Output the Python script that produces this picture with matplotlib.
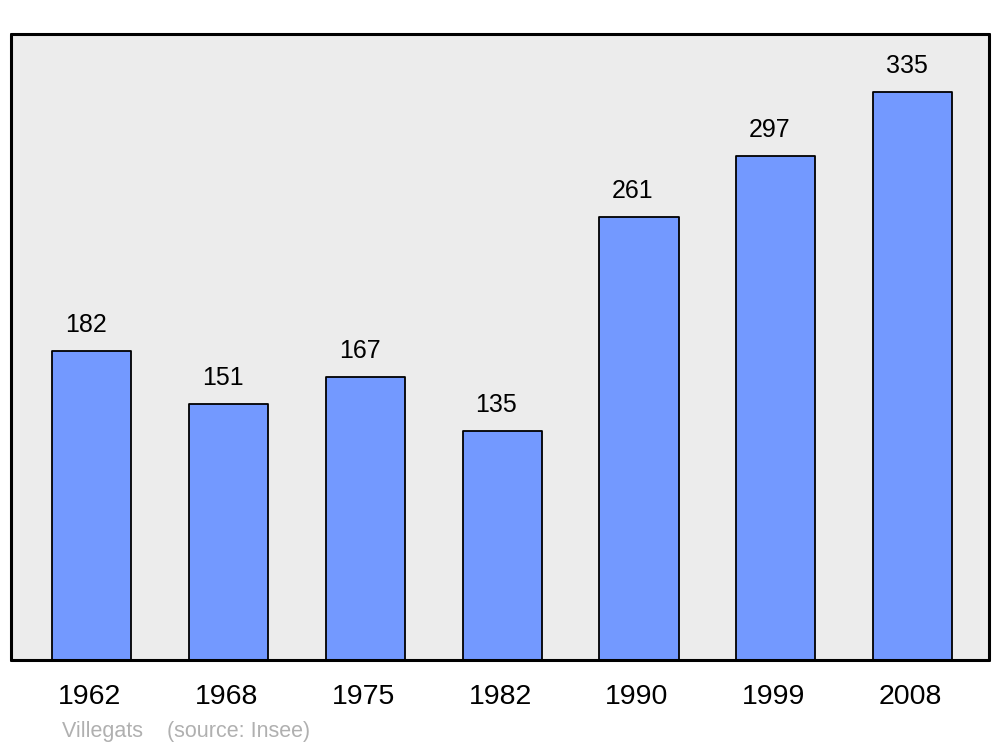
import matplotlib
matplotlib.use("Agg")
import matplotlib.pyplot as plt
from matplotlib.transforms import ScaledTranslation

years = ["1962", "1968", "1975", "1982", "1990", "1999", "2008"]
population = [182, 151, 167, 135, 261, 297, 335]

plt.rcParams['font.family'] = ['Liberation Sans', 'DejaVu Sans']

fig = plt.figure(figsize=(10, 7.47), dpi=100)
ax = fig.add_axes([0.011, 1 - 660 / 747, 0.978, (660 - 34) / 747])
ax.set_facecolor('#ececec')

x = list(range(len(years)))
bars = ax.bar(x, population, width=0.578, color='#7399ff', edgecolor='black',
              linewidth=1.3, zorder=2)
for b in bars:
    b.set_joinstyle('round')

for xi, v in zip(x, population):
    ax.annotate(str(v), (xi, v), xytext=(-6, 19), textcoords='offset pixels',
                ha='center', va='baseline', fontsize=18, color='black')

ax.set_xlim(-0.592, 6.559)
ax.set_ylim(0, 369.2)
ax.set_yticks([])
ax.set_xticks(x)
ax.set_xticklabels(years, fontsize=20.5)
ax.tick_params(axis='x', length=0, pad=17.5)
shift = ScaledTranslation(-2 / 100, 0, fig.dpi_scale_trans)
for lbl in ax.get_xticklabels():
    lbl.set_transform(lbl.get_transform() + shift)
for sp in ax.spines.values():
    sp.set_linewidth(2.2)
    sp.set_capstyle('round')
    sp.set_joinstyle('round')

fig.text(62 / 1000, 1 - 731 / 747, "Villegats    (source: Insee)", fontsize=15.5,
         color='#b0b0b0', ha='left', va='center')

fig.savefig("out.png", dpi=100, facecolor='white')
